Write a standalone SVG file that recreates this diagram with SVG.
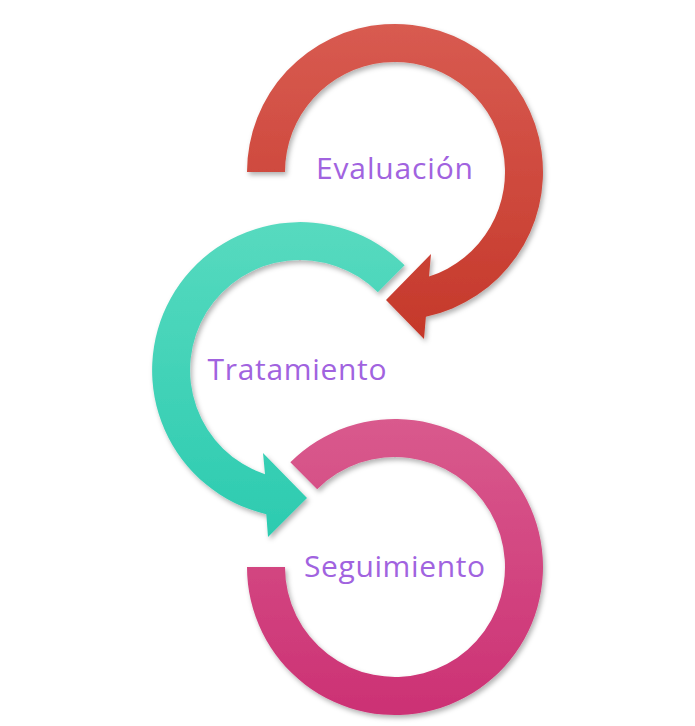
<svg xmlns="http://www.w3.org/2000/svg" width="695" height="726" viewBox="0 0 695 726">
  <defs>
    <linearGradient id="gRed" x1="0" y1="0" x2="0" y2="1">
      <stop offset="0" stop-color="#D85B51"/>
      <stop offset="1" stop-color="#C5382A"/>
    </linearGradient>
    <linearGradient id="gTeal" x1="0" y1="0" x2="0" y2="1">
      <stop offset="0" stop-color="#57DABF"/>
      <stop offset="1" stop-color="#2CCBB0"/>
    </linearGradient>
    <linearGradient id="gPink" x1="0" y1="0" x2="0" y2="1">
      <stop offset="0" stop-color="#D95A8D"/>
      <stop offset="1" stop-color="#CC3174"/>
    </linearGradient>
    <filter id="shadow" x="-10%" y="-10%" width="120%" height="120%">
      <feDropShadow dx="2" dy="3" stdDeviation="2.5" flood-color="#000" flood-opacity="0.3"/>
    </filter>
    <style>
      .lbl { font-family: "Open Sans", "DejaVu Sans", sans-serif; font-size: 30px; fill: #A163DF; text-anchor: middle; }
      .arc { filter: url(#shadow); }
    </style>
  </defs>

  <g id="seguimiento">
    <path class="arc" fill="url(#gPink)" d="M247,567 A148,148 0 1 0 290.35,462.35 L317.2,489.2 A110,110 0 1 1 285,567 Z"/>
    <text class="lbl" x="394.5" y="577" textLength="181" lengthAdjust="spacing">Seguimiento</text>
  </g>

  <g id="tratamiento">
    <path class="arc" fill="url(#gTeal)" d="M404.65,265.35 A148,148 0 1 0 266.3,514.2 L268,537 L307,498 L263,453 L265,474.3 A110,110 0 1 1 377.8,292.2 Z"/>
    <text class="lbl" x="297" y="380" textLength="179" lengthAdjust="spacing">Tratamiento</text>
  </g>

  <g id="evaluacion">
    <path class="arc" fill="url(#gRed)" d="M247,172 A148,148 0 1 1 425.9,316.7 L424,339 L386,300 L431,254 L429,276.6 A110,110 0 1 0 285,172 Z"/>
    <text class="lbl" x="394.5" y="179" textLength="157" lengthAdjust="spacing">Evaluación</text>
  </g>

  <g id="connectors"/>
</svg>
